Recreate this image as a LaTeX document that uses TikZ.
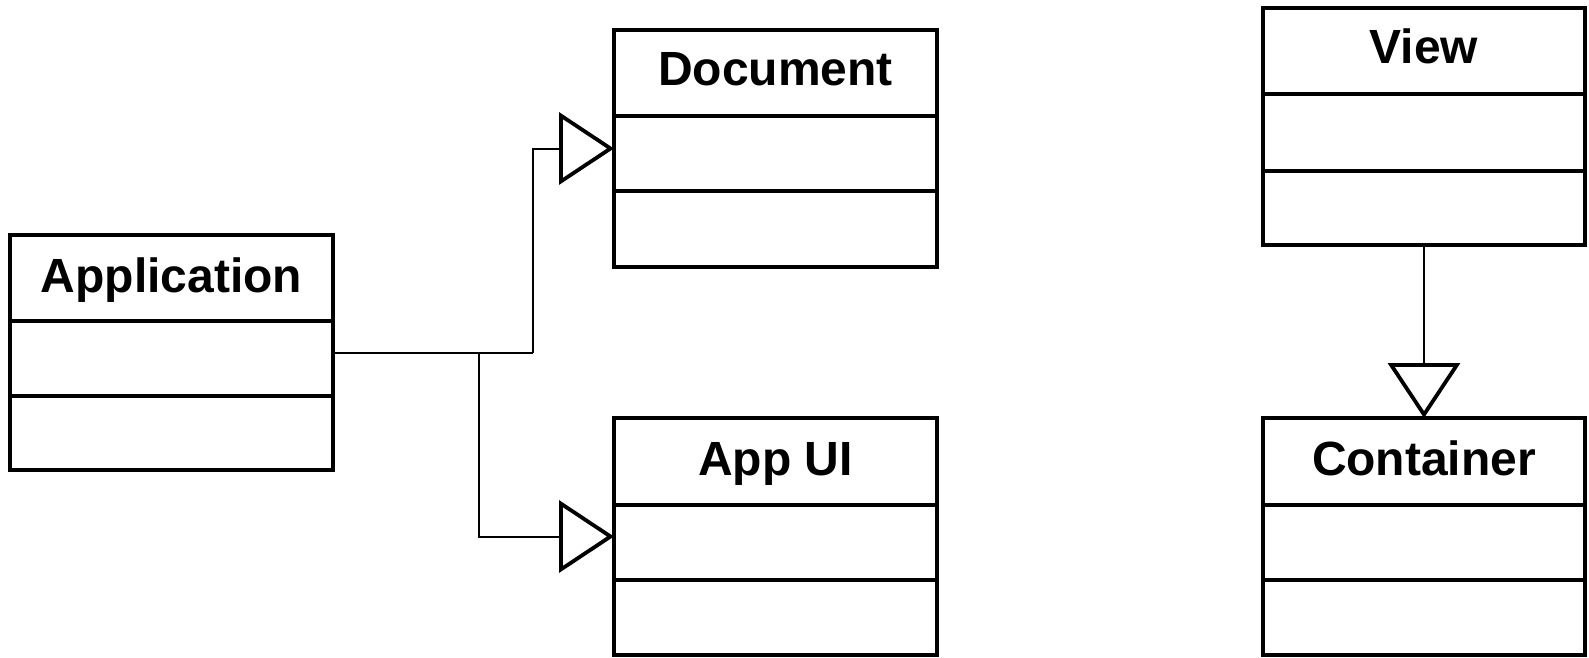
\documentclass[tikz,border=0pt]{standalone}
\usepackage{fontspec}
\setmainfont{Liberation Sans}
\usetikzlibrary{arrows.meta}
\begin{document}
\begin{tikzpicture}[x=1pt,y=-1pt,
  classbox/.style={draw,line width=3.6pt,inner sep=0pt,outer sep=0pt,
    minimum width=323pt,minimum height=237pt},
  divider/.style={line width=3.6pt},
  title/.style={anchor=base,inner sep=0pt,font=\fontsize{48}{58}\selectfont\bfseries},
  gen/.style={line width=2pt,
    -{Triangle[open,length=55pt,width=72pt,line width=3.8pt]}},
  link/.style={line width=2pt}]
\useasboundingbox (0,0) rectangle (1589,657);

% Application
\node[classbox,minimum height=235pt] (app) at (171.5,352.5) {};
\draw[divider] (10,321) -- (333,321) (10,396) -- (333,396);
\node[title] (appT) at (171.5,292) {Application};

% Document
\node[classbox] (doc) at (775.5,148.5) {};
\draw[divider] (614,116) -- (937,116) (614,191) -- (937,191);
\node[title] (docT) at (775.5,85) {Document};

% App UI
\node[classbox] (ui) at (775.5,536.5) {};
\draw[divider] (614,505) -- (937,505) (614,580) -- (937,580);
\node[title] (uiT) at (775.5,475) {App UI};

% View
\node[classbox,minimum width=322pt] (view) at (1424,126.5) {};
\draw[divider] (1263,94) -- (1585,94) (1263,171) -- (1585,171);
\node[title] (viewT) at (1424,63) {View};

% Container
\node[classbox,minimum width=322pt] (cont) at (1424,536.5) {};
\draw[divider] (1263,505) -- (1585,505) (1263,580) -- (1585,580);
\node[title] (contT) at (1424,475) {Container};

% generalisation connectors
\coordinate (jdoc) at (533,352.5);
\coordinate (jui) at (479,352.5);
\draw[link] (app.east) -- (jdoc);
\draw[gen] (jdoc) |- (doc.west);
\draw[gen] (jui) |- (ui.west);
\draw[gen] (view.south) -- (cont.north);
\end{tikzpicture}
\end{document}
